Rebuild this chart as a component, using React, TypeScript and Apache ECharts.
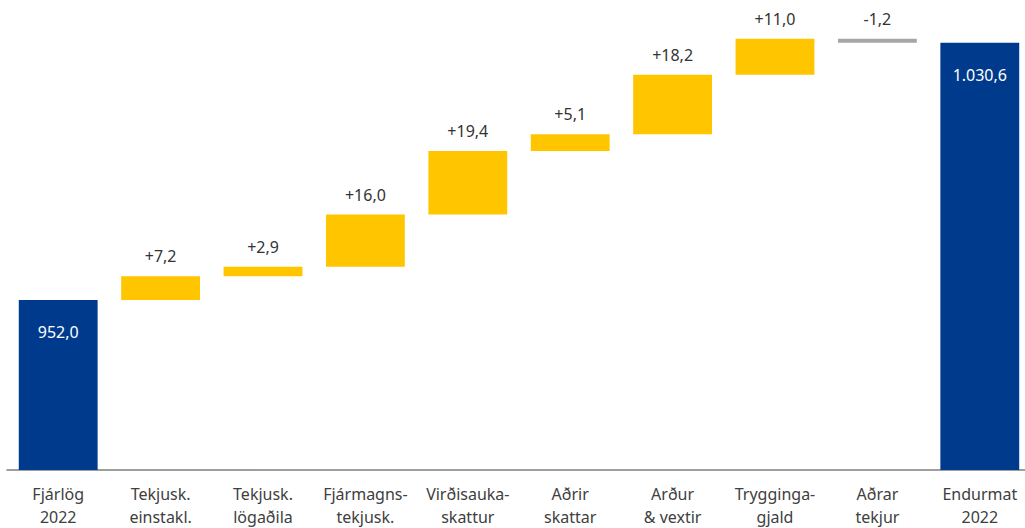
import React, { useEffect, useRef } from "react";
import * as echarts from "echarts";

const categories = [
  "Fjárlög\n2022",
  "Tekjusk.\neinstakl.",
  "Tekjusk.\nlögaðila",
  "Fjármagns-\ntekjusk.",
  "Virðisauka-\nskattur",
  "Aðrir\nskattar",
  "Arður\n& vextir",
  "Trygginga-\ngjald",
  "Aðrar\ntekjur",
  "Endurmat\n2022",
];
const startValue = 952.0;
const changes = [7.2, 2.9, 16.0, 19.4, 5.1, 18.2, 11.0, -1.2];
const endValue = 1030.6;

const BLUE = "#003a8c";
const YELLOW = "#ffc600";
const GREY = "#a6a6a6";

function fmt(v: number): string {
  const s = Math.abs(v).toFixed(1);
  const [i, d] = s.split(".");
  const ii = i.replace(/\B(?=(\d{3})+(?!\d))/g, ".");
  return ii + "," + d;
}

export default function App() {
  const ref = useRef<HTMLDivElement>(null);
  useEffect(() => {
    if (!ref.current) return;
    const chart = echarts.init(ref.current, undefined, { renderer: "svg" });
    const base: any[] = [];
    const vis: any[] = [];
    const font = "'Noto Sans', sans-serif";
    base.push(0);
    vis.push({
      value: startValue,
      itemStyle: { color: BLUE },
      label: {
        show: true,
        position: "insideTop",
        distance: 24,
        color: "#ffffff",
        formatter: fmt(startValue),
      },
    });
    let run = startValue;
    changes.forEach((c) => {
      const lo = c >= 0 ? run : run + c;
      base.push(lo);
      vis.push({
        value: Math.abs(c),
        itemStyle: { color: c >= 0 ? YELLOW : GREY },
        label: {
          show: true,
          position: "top",
          distance: 12,
          color: "#333333",
          formatter: (c >= 0 ? "+" : "-") + fmt(c),
        },
      });
      run += c;
    });
    base.push(0);
    vis.push({
      value: endValue,
      itemStyle: { color: BLUE },
      label: {
        show: true,
        position: "insideTop",
        distance: 24,
        color: "#ffffff",
        formatter: fmt(endValue),
      },
    });
    chart.setOption({
      animation: false,
      textStyle: { fontFamily: font },
      grid: { left: 7, right: 0, top: 12, bottom: 56, containLabel: false },
      xAxis: {
        type: "category",
        data: categories,
        axisLine: { lineStyle: { color: "#7f7f7f", width: 1.5 } },
        axisTick: { show: false },
        axisLabel: {
          color: "#404040",
          fontSize: 16,
          lineHeight: 23,
          margin: 12,
          interval: 0,
          fontFamily: font,
        },
      },
      yAxis: {
        type: "value",
        min: 900,
        max: 1040,
        show: false,
        splitLine: { show: false },
      },
      series: [
        {
          type: "bar",
          stack: "w",
          data: base,
          itemStyle: { color: "transparent" },
          barCategoryGap: "23%",
          silent: true,
        },
        {
          type: "bar",
          stack: "w",
          data: vis,
          barCategoryGap: "23%",
          label: { fontSize: 16, fontFamily: font },
        },
      ],
    });
    return () => chart.dispose();
  }, []);
  return (
    <div
      ref={ref}
      style={{ position: "fixed", left: 0, top: 0, width: 1031, height: 528, background: "#fff" }}
    />
  );
}
